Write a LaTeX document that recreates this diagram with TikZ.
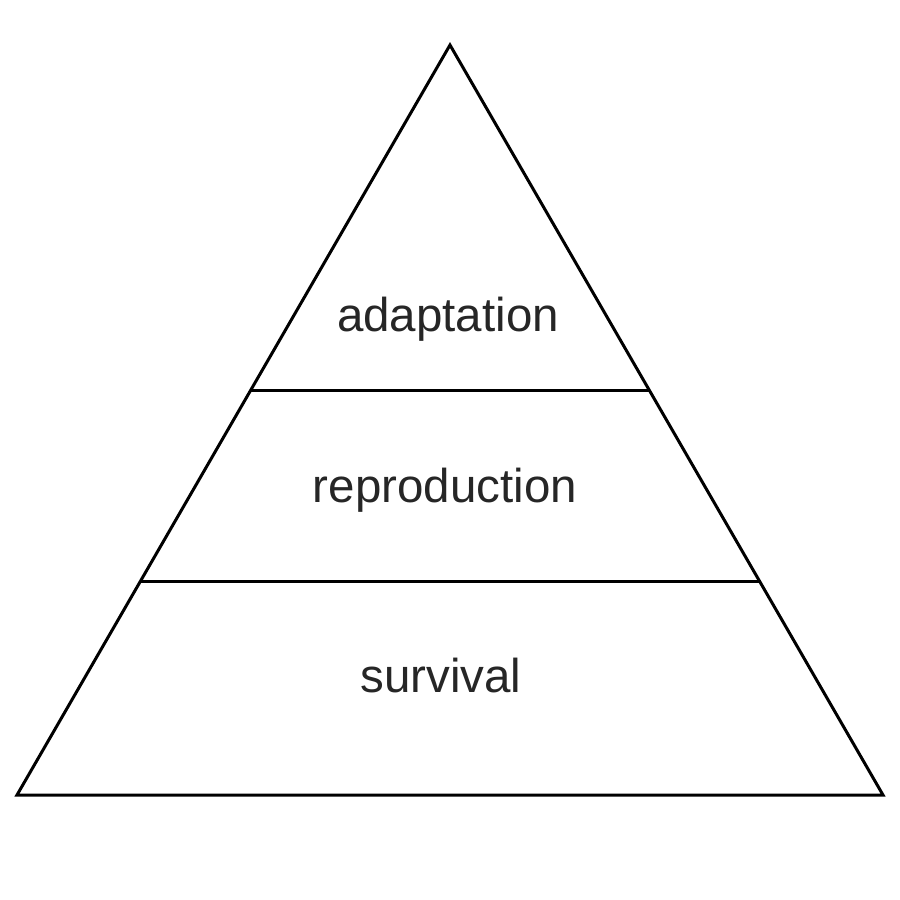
\documentclass[tikz,border=0pt]{standalone}
\usepackage{fontspec}
\setmainfont{Liberation Sans}
\usetikzlibrary{calc}
\begin{document}
\begin{tikzpicture}[x=1pt,y=-1pt,
  edge/.style={line width=3pt,line join=miter,black},
  lbl/.style={anchor=base,inner sep=0pt,text=txt,font=\fontsize{47.5}{50}\selectfont}]
\definecolor{txt}{HTML}{262626}
\useasboundingbox (0,0) rectangle (900,900);
\coordinate (top) at (450,45);
\coordinate (bl) at (17,795);
\coordinate (br) at (883,795);
\draw[edge] (top) -- (br) -- (bl) -- cycle;
\coordinate (l1) at ($(top)!0.4613!(bl)$);
\coordinate (r1) at ($(top)!0.4613!(br)$);
\coordinate (l2) at ($(top)!0.7147!(bl)$);
\coordinate (r2) at ($(top)!0.7147!(br)$);
\draw[edge] (l1) -- (r1);
\draw[edge] (l2) -- (r2);
\node[lbl] (adapt) at (448,331) {adaptation};
\node[lbl] (repro) at (445,502) {reproduction};
\node[lbl] (surv) at (441,692) {survival};
\end{tikzpicture}
\end{document}
